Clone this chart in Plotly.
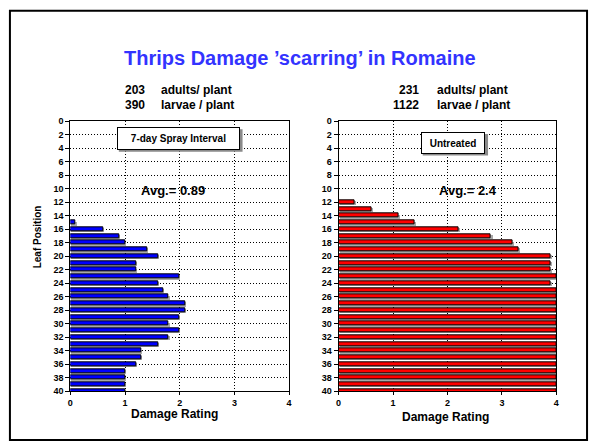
import plotly.graph_objects as go

# ---- data ----
positions_left = [15, 16, 17, 18, 19, 20, 21, 22, 23, 24, 25, 26, 27, 28, 29, 30,
                  31, 32, 33, 34, 35, 36, 37, 38, 39, 40]
damage_left = [0.1, 0.6, 0.9, 1.0, 1.4, 1.6, 1.2, 1.2, 2.0, 1.6, 1.7, 1.8, 2.1, 2.1,
               2.0, 1.8, 2.0, 1.8, 1.6, 1.3, 1.3, 1.2, 1.0, 1.0, 1.0, 1.0]
positions_right = [12, 13, 14, 15, 16, 17, 18, 19, 20, 21, 22, 23, 24, 25, 26, 27,
                   28, 29, 30, 31, 32, 33, 34, 35, 36, 37, 38, 39, 40]
damage_right = [0.3, 0.6, 1.1, 1.4, 2.2, 2.8, 3.2, 3.3, 3.9, 3.9, 3.9, 4.0, 3.9,
                4.0, 4.0, 4.0, 4.0, 4.0, 4.0, 4.0, 4.0, 4.0, 4.0, 4.0, 4.0, 4.0,
                4.0, 4.0, 4.0]
y_ticks = [0, 2, 4, 6, 8, 10, 12, 14, 16, 18, 20, 22, 24, 26, 28, 30, 32, 34, 36, 38, 40]
x_ticks = [0, 1, 2, 3, 4]

title_text = "Thrips Damage \u2019scarring\u2019 in Romaine"
left_counts = ["203", "390"]
right_counts = ["231", "1122"]
count_labels = ["adults/ plant", "larvae / plant"]
left_label = "7-day Spray Interval"
right_label = "Untreated"
left_avg = "Avg.= 0.89"
right_avg = "Avg.= 2.4"

W, H = 594, 447
FONT = "Arial, Liberation Sans, sans-serif"


def px(x):
    return x / W


def py(y):
    return 1 - y / H


fig = go.Figure()

SH_DY = 0.2
SH_DX = 0.02


def add_panel(pos, vals, color, xa, ya):
    fig.add_trace(go.Bar(
        x=vals, y=[p + SH_DY for p in pos], base=SH_DX, orientation="h",
        width=0.6, marker=dict(color="#a8a8a8", line=dict(width=0)),
        xaxis=xa, yaxis=ya, hoverinfo="skip", showlegend=False))
    fig.add_trace(go.Bar(
        x=vals, y=pos, orientation="h", width=0.6,
        marker=dict(color=color, line=dict(color="black", width=1)),
        xaxis=xa, yaxis=ya, showlegend=False))


add_panel(positions_left, damage_left, "#0000FF", "x", "y")
add_panel(positions_right, damage_right, "#FF0000", "x2", "y2")

ydom = [py(395), py(119)]
axis_common = dict(
    showline=True, linecolor="black", linewidth=1, mirror=True,
    showgrid=True, gridcolor="black", griddash="1px,2px", gridwidth=1,
    ticks="outside", ticklen=4, tickcolor="black",
    tickfont=dict(family=FONT, size=9, color="black", weight="bold"),
    zeroline=False,
)
x_common = {**axis_common, "ticklen": 3}

fig.update_layout(
    width=W, height=H,
    margin=dict(l=0, r=0, t=0, b=0),
    paper_bgcolor="white", plot_bgcolor="white",
    barmode="overlay", bargap=0,
    showlegend=False,
    xaxis=dict(domain=[px(68), px(289)], range=[0, 4], tickvals=x_ticks,
               anchor="y", **x_common),
    yaxis=dict(domain=ydom, range=[40, 0], tickvals=y_ticks, anchor="x",
               **axis_common),
    xaxis2=dict(domain=[px(339), px(559)], range=[0, 4], tickvals=x_ticks,
                anchor="y2", **x_common),
    yaxis2=dict(domain=ydom, range=[40, 0], tickvals=y_ticks, anchor="x2",
                **axis_common),
)

ann = []
# title
ann.append(dict(x=px(300), y=py(54), text=title_text, showarrow=False,
                xanchor="center", yanchor="middle",
                font=dict(family=FONT, size=20, color="#3333FF", weight="bold")))
# count lines
for i, ypos in enumerate([87, 102]):
    ann.append(dict(x=px(145), y=py(ypos), text=left_counts[i], showarrow=False,
                    xanchor="right", yanchor="middle",
                    font=dict(family=FONT, size=12, color="black", weight="bold")))
    ann.append(dict(x=px(158), y=py(ypos), text=count_labels[i], showarrow=False,
                    xanchor="left", yanchor="middle",
                    font=dict(family=FONT, size=12, color="black", weight="bold")))
    ann.append(dict(x=px(422), y=py(ypos), text=right_counts[i], showarrow=False,
                    xanchor="right", yanchor="middle",
                    font=dict(family=FONT, size=12, color="black", weight="bold")))
    ann.append(dict(x=px(436), y=py(ypos), text=count_labels[i], showarrow=False,
                    xanchor="left", yanchor="middle",
                    font=dict(family=FONT, size=12, color="black", weight="bold")))
# label boxes
ann.append(dict(x=px(177), y=py(136.5), text=left_label, showarrow=False,
                xanchor="center", yanchor="middle", width=119, height=19,
                bgcolor="white", bordercolor="black", borderwidth=1, borderpad=1,
                font=dict(family=FONT, size=10, color="black", weight="bold")))
ann.append(dict(x=px(455), y=py(141), text=right_label, showarrow=False,
                xanchor="center", yanchor="middle", width=60, height=18,
                bgcolor="white", bordercolor="black", borderwidth=1, borderpad=1,
                font=dict(family=FONT, size=10, color="black", weight="bold")))
# averages
ann.append(dict(x=px(172), y=py(190), text=left_avg, showarrow=False,
                xanchor="center", yanchor="middle",
                font=dict(family=FONT, size=13, color="black", weight="bold")))
ann.append(dict(x=px(470), y=py(190), text=right_avg, showarrow=False,
                xanchor="center", yanchor="middle",
                font=dict(family=FONT, size=13, color="black", weight="bold")))
# axis titles
ann.append(dict(x=px(173), y=py(418), text="Damage Rating", showarrow=False,
                xanchor="center", yanchor="middle",
                font=dict(family=FONT, size=12, color="black", weight="bold")))
ann.append(dict(x=px(447), y=py(421), text="Damage Rating", showarrow=False,
                xanchor="center", yanchor="middle",
                font=dict(family=FONT, size=12, color="black", weight="bold")))
ann.append(dict(x=px(35), y=py(237), text="Leaf Position", showarrow=False,
                xanchor="center", yanchor="middle", textangle=-90,
                font=dict(family=FONT, size=10, color="black", weight="bold")))

for a in ann:
    a.setdefault("xref", "paper")
    a.setdefault("yref", "paper")

shapes = [
    # slide border
    dict(type="rect", xref="paper", yref="paper", x0=px(7), x1=px(590),
         y0=py(445), y1=py(6), line=dict(color="black", width=2), layer="below"),
    # label box shadows
    dict(type="rect", xref="paper", yref="paper", x0=px(117), x1=px(242),
         y0=py(150), y1=py(127), fillcolor="#8a8a8a", line=dict(width=0),
         layer="above"),
    dict(type="rect", xref="paper", yref="paper", x0=px(424), x1=px(490),
         y0=py(154), y1=py(132), fillcolor="#8a8a8a", line=dict(width=0),
         layer="above"),
]

fig.update_layout(annotations=ann, shapes=shapes)
fig.write_html(
    "out.html",
    config={"displayModeBar": False},
    post_script=("document.body.style.margin='0';"
                 "document.body.style.padding='0';"
                 "document.body.style.overflow='hidden';"
                 "document.documentElement.style.overflow='hidden';"),
)
